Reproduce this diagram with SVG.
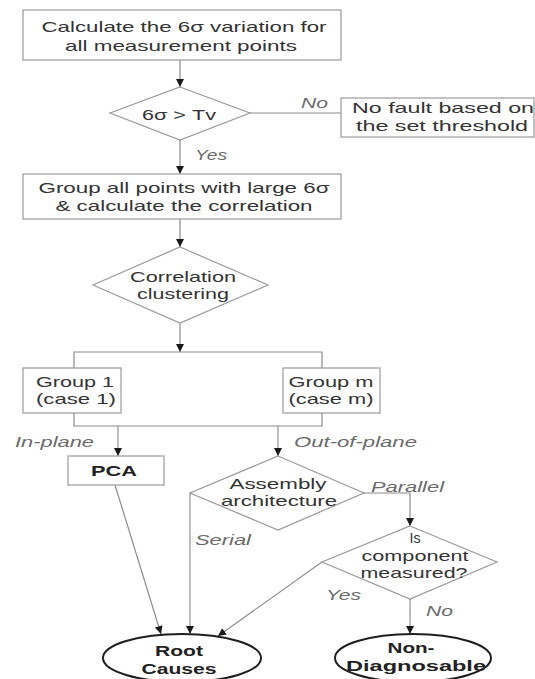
<svg xmlns="http://www.w3.org/2000/svg" width="535" height="679" viewBox="0 0 535 679">
  <defs>
    <marker id="arrow" viewBox="0 0 10 10" refX="10" refY="5" markerWidth="8" markerHeight="9" markerUnits="userSpaceOnUse" orient="auto">
      <path d="M0,0 L10,5 L0,10 Z" fill="#1a1a1a"/>
    </marker>
  </defs>
  <style>
    .box { fill: #ffffff; stroke: #9a9a9a; stroke-width: 1.2; }
    .term { fill: #ffffff; stroke: #1e1e1e; stroke-width: 2; }
    .edge { fill: none; stroke: #8c8c8c; stroke-width: 1.2; }
    .arr { marker-end: url(#arrow); }
    text { font-family: "Liberation Sans", Arial, sans-serif; font-size: 15px; fill: #333333; text-anchor: middle; }
    .lbl { font-style: italic; fill: #6a6a6a; text-anchor: start; }
    .bold { font-weight: bold; fill: #222222; }
  </style>
  <rect width="535" height="679" fill="#ffffff"/>

  <!-- connectors -->
  <g id="connectors">
    <line class="edge arr" x1="180" y1="60" x2="180" y2="87"/>
    <line class="edge" x1="250" y1="113" x2="341" y2="113"/>
    <line class="edge arr" x1="180" y1="140" x2="180" y2="174"/>
    <line class="edge arr" x1="180" y1="219" x2="180" y2="247"/>
    <line class="edge arr" x1="180" y1="323" x2="180" y2="352"/>
    <polyline class="edge" points="74,368 74,352 322,352 322,368"/>
    <polyline class="edge" points="74,413 74,426 322,426 322,413"/>
    <line class="edge arr" x1="118" y1="426" x2="118" y2="456"/>
    <line class="edge arr" x1="278" y1="426" x2="278" y2="456"/>
    <line class="edge arr" x1="115" y1="485" x2="161" y2="634"/>
    <line class="edge arr" x1="190" y1="493" x2="190" y2="634"/>
    <polyline class="edge arr" points="364,493 410,493 410,526"/>
    <line class="edge arr" x1="322" y1="562" x2="218" y2="636"/>
    <line class="edge arr" x1="410" y1="599" x2="410" y2="634"/>
    <text class="lbl" x="301" y="108" textLength="27" lengthAdjust="spacingAndGlyphs">No</text>
    <text class="lbl" x="195" y="160" textLength="32" lengthAdjust="spacingAndGlyphs">Yes</text>
    <text class="lbl" x="15" y="447" textLength="79" lengthAdjust="spacingAndGlyphs">In-plane</text>
    <text class="lbl" x="294" y="447" textLength="123" lengthAdjust="spacingAndGlyphs">Out-of-plane</text>
    <text class="lbl" x="371" y="492" textLength="73" lengthAdjust="spacingAndGlyphs">Parallel</text>
    <text class="lbl" x="195" y="545" textLength="56" lengthAdjust="spacingAndGlyphs">Serial</text>
    <text class="lbl" x="326" y="600" textLength="35" lengthAdjust="spacingAndGlyphs">Yes</text>
    <text class="lbl" x="426" y="616" textLength="27" lengthAdjust="spacingAndGlyphs">No</text>
  </g>

  <g id="calc-variation">
    <rect class="box" x="23" y="10" width="318" height="50"/>
    <text x="184" y="32" textLength="285" lengthAdjust="spacingAndGlyphs">Calculate the 6σ variation for</text>
    <text x="181" y="51" textLength="232" lengthAdjust="spacingAndGlyphs">all measurement points</text>
  </g>

  <g id="threshold-check">
    <polygon class="box" points="180,87 250,113 180,140 110,113"/>
    <text x="179" y="120" textLength="74" lengthAdjust="spacingAndGlyphs">6σ &gt; Tv</text>
  </g>

  <g id="no-fault">
    <rect class="box" x="341" y="98" width="193" height="39"/>
    <text x="443" y="113" textLength="182" lengthAdjust="spacingAndGlyphs">No fault based on</text>
    <text x="442" y="131" textLength="172" lengthAdjust="spacingAndGlyphs">the set threshold</text>
  </g>

  <g id="group-points">
    <rect class="box" x="23" y="174" width="318" height="45"/>
    <text x="184" y="193" textLength="291" lengthAdjust="spacingAndGlyphs">Group all points with large 6σ</text>
    <text x="184" y="211" textLength="257" lengthAdjust="spacingAndGlyphs">&amp; calculate the correlation</text>
  </g>

  <g id="correlation-clustering">
    <polygon class="box" points="180,247 268,285 180,323 93,285"/>
    <text x="183" y="282" textLength="106" lengthAdjust="spacingAndGlyphs">Correlation</text>
    <text x="183" y="299" textLength="92" lengthAdjust="spacingAndGlyphs">clustering</text>
  </g>

  <g id="group-1">
    <rect class="box" x="23" y="368" width="98" height="45"/>
    <text x="75" y="387" textLength="78" lengthAdjust="spacingAndGlyphs">Group 1</text>
    <text x="76" y="404" textLength="80" lengthAdjust="spacingAndGlyphs">(case 1)</text>
  </g>

  <g id="group-m">
    <rect class="box" x="283" y="368" width="97" height="45"/>
    <text x="331" y="387" textLength="85" lengthAdjust="spacingAndGlyphs">Group m</text>
    <text x="331" y="404" textLength="85" lengthAdjust="spacingAndGlyphs">(case m)</text>
  </g>

  <g id="pca">
    <rect class="box" x="68" y="456" width="96" height="29"/>
    <text class="bold" x="114" y="476" textLength="46" lengthAdjust="spacingAndGlyphs">PCA</text>
  </g>

  <g id="assembly-architecture">
    <polygon class="box" points="278,456 364,493 278,530 190,493"/>
    <text x="278" y="489" textLength="97" lengthAdjust="spacingAndGlyphs">Assembly</text>
    <text x="279" y="506" textLength="116" lengthAdjust="spacingAndGlyphs">architecture</text>
  </g>

  <g id="component-measured">
    <polygon class="box" points="410,526 497,562 410,599 322,562"/>
    <text x="415" y="543" textLength="11" lengthAdjust="spacingAndGlyphs">Is</text>
    <text x="415" y="561" textLength="107" lengthAdjust="spacingAndGlyphs">component</text>
    <text x="414" y="578" textLength="107" lengthAdjust="spacingAndGlyphs">measured?</text>
  </g>

  <g id="root-causes">
    <ellipse class="term" cx="182" cy="658" rx="79" ry="24"/>
    <text class="bold" x="179" y="656" textLength="48" lengthAdjust="spacingAndGlyphs">Root</text>
    <text class="bold" x="179" y="674" textLength="75" lengthAdjust="spacingAndGlyphs">Causes</text>
  </g>

  <g id="non-diagnosable">
    <ellipse class="term" cx="413" cy="658" rx="78" ry="24"/>
    <text class="bold" x="411" y="653" textLength="47" lengthAdjust="spacingAndGlyphs">Non-</text>
    <text class="bold" x="416" y="671" textLength="140" lengthAdjust="spacingAndGlyphs">Diagnosable</text>
  </g>
</svg>
